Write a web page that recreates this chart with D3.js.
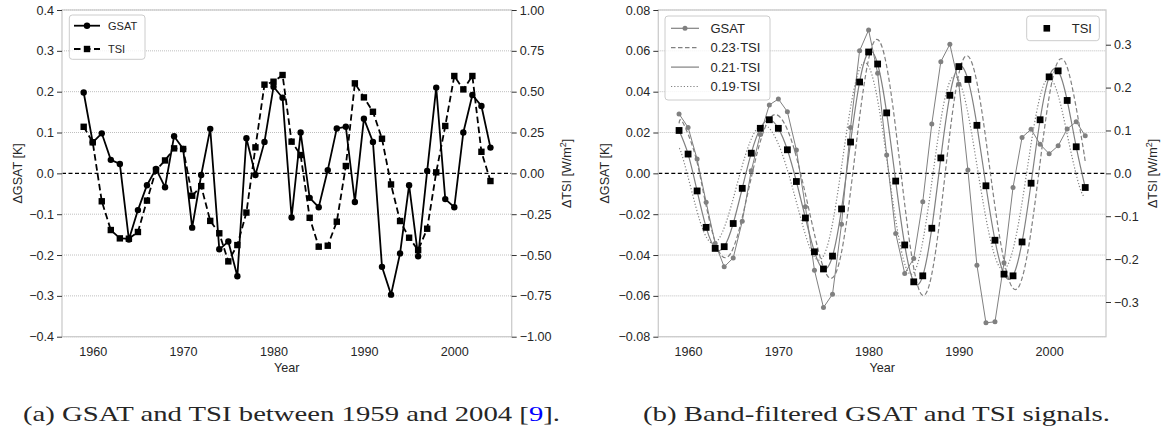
<!DOCTYPE html>
<html>
<head>
<meta charset="utf-8">
<script src="https://cdn.jsdelivr.net/npm/d3@7"></script>
<style>
  body { margin: 0; background: #fff; }
  svg { display: block; }
  text { font-family: "Liberation Sans", Arial, sans-serif; fill: #262626; }
</style>
</head>
<body>
<svg width="1168" height="430"></svg>
<script>
// годы наблюдений
const years = d3.range(1959, 2005);

// (a) исходные ряды
const gsatRaw = [0.198, 0.076, 0.098, 0.033, 0.023, -0.162, -0.090, -0.029, 0.011, -0.034,
  0.091, 0.060, -0.133, -0.004, 0.109, -0.186, -0.167, -0.252, 0.086, -0.004,
  0.077, 0.212, 0.185, -0.108, 0.100, -0.060, -0.083, 0.008, 0.110, 0.114,
  -0.070, 0.134, 0.077, -0.229, -0.297, -0.196, -0.029, -0.203, 0.006, 0.210,
  -0.063, -0.083, 0.100, 0.192, 0.165, 0.063];
const tsiRaw = [0.285, 0.190, -0.171, -0.347, -0.398, -0.400, -0.359, -0.167, 0.020, 0.079,
  0.153, 0.149, -0.137, -0.078, -0.291, -0.367, -0.539, -0.439, -0.240, 0.159,
  0.543, 0.561, 0.602, 0.194, 0.112, -0.272, -0.449, -0.443, -0.296, 0.045,
  0.551, 0.465, 0.377, 0.212, -0.068, -0.292, -0.394, -0.470, -0.339, 0.006,
  0.290, 0.596, 0.514, 0.596, 0.132, -0.047];

// (b) отфильтрованные ряды
const gsatBand = [0.0291, 0.0225, 0.0070, -0.0141, -0.0343, -0.0458, -0.0414, -0.0235, 0.0013, 0.0190,
  0.0335, 0.0364, 0.0302, 0.0114, -0.0164, -0.0474, -0.0657, -0.0592, -0.0249, 0.0225,
  0.0600, 0.0702, 0.0490, 0.0090, -0.0294, -0.0490, -0.0417, -0.0139, 0.0242, 0.0547,
  0.0632, 0.0436, 0.0016, -0.0450, -0.0732, -0.0727, -0.0438, -0.0069, 0.0176, 0.0216,
  0.0142, 0.0096, 0.0135, 0.0217, 0.0253, 0.0184];
const tsiBand = [0.100, 0.045, -0.041, -0.126, -0.175, -0.171, -0.117, -0.035, 0.047, 0.105,
  0.125, 0.105, 0.055, -0.019, -0.104, -0.183, -0.223, -0.193, -0.083, 0.073,
  0.213, 0.283, 0.255, 0.141, -0.018, -0.167, -0.253, -0.239, -0.128, 0.036,
  0.182, 0.249, 0.219, 0.112, -0.029, -0.156, -0.235, -0.239, -0.160, -0.023,
  0.125, 0.225, 0.239, 0.170, 0.062, -0.033];

// кривые 0.23·TSI и 0.19·TSI (точки: [год, значение])
const tsi023 = [[1959, 0.0245], [1959.4, 0.0250], [1960.7, 0.0103], [1961.7, -0.0094], [1962.7, -0.0290],
  [1963.7, -0.0402], [1964.7, -0.0393], [1965.7, -0.0269], [1966.7, -0.0080], [1967.7, 0.0108],
  [1968.7, 0.0242], [1969.7, 0.0288], [1970.7, 0.0242], [1971.7, 0.0127], [1972.7, -0.0044],
  [1973.7, -0.0239], [1974.7, -0.0421], [1975.7, -0.0513], [1976.7, -0.0444], [1977.7, -0.0191],
  [1978.7, 0.0168], [1979.7, 0.0490], [1980.7, 0.0651], [1981.7, 0.0587], [1982.7, 0.0324],
  [1983.7, -0.0041], [1984.7, -0.0384], [1985.7, -0.0582], [1986.7, -0.0550], [1987.7, -0.0294],
  [1988.7, 0.0083], [1989.7, 0.0419], [1990.7, 0.0573], [1991.7, 0.0504], [1992.7, 0.0258],
  [1993.7, -0.0067], [1994.7, -0.0359], [1995.7, -0.0540], [1996.7, -0.0550], [1997.7, -0.0368],
  [1998.7, -0.0053], [1999.7, 0.0288], [2000.7, 0.0518], [2001.7, 0.0550], [2002.7, 0.0391],
  [2003.7, 0.0143], [2004, 0.0057]];
const tsi019 = [[1959, 0.0122], [1959.35, 0.0086], [1960.35, -0.0078], [1961.35, -0.0239], [1962.35, -0.0333],
  [1963.35, -0.0325], [1964.35, -0.0222], [1965.35, -0.0067], [1966.35, 0.0089], [1967.35, 0.0200],
  [1968.35, 0.0238], [1969.35, 0.0200], [1970.35, 0.0105], [1971.35, -0.0036], [1972.35, -0.0198],
  [1973.35, -0.0348], [1974.35, -0.0424], [1975.35, -0.0367], [1976.35, -0.0158], [1977.35, 0.0139],
  [1978.35, 0.0405], [1979.35, 0.0538], [1980.35, 0.0485], [1981.35, 0.0268], [1982.35, -0.0034],
  [1983.35, -0.0317], [1984.35, -0.0481], [1985.35, -0.0454], [1986.35, -0.0243], [1987.35, 0.0068],
  [1988.35, 0.0346], [1989.35, 0.0473], [1990.35, 0.0416], [1991.35, 0.0213], [1992.35, -0.0055],
  [1993.35, -0.0296], [1994.35, -0.0447], [1995.35, -0.0454], [1996.35, -0.0304], [1997.35, -0.0044],
  [1998.35, 0.0238], [1999.35, 0.0428], [2000.35, 0.0454], [2001.35, 0.0323], [2002.35, 0.0118],
  [2003.35, -0.0063], [2003.9, -0.0115]];

// подписи делений
const xTicks = [1960, 1970, 1980, 1990, 2000];
const yTicksA = [-0.4, -0.3, -0.2, -0.1, 0, 0.1, 0.2, 0.3, 0.4];
const y2TicksA = [-1, -0.75, -0.5, -0.25, 0, 0.25, 0.5, 0.75, 1];
const yTicksB = [-0.08, -0.06, -0.04, -0.02, 0, 0.02, 0.04, 0.06, 0.08];
const y2TicksB = [-0.3, -0.2, -0.1, 0, 0.1, 0.2, 0.3];

const svg = d3.select("svg");
const minus = s => s.replace("-", "\u2212");

function createPanel(area) {
  const g = svg.append("g");
  const scX = d3.scaleLinear().domain(area.xDomain).range([area.left, area.right]);
  const scY = d3.scaleLinear().domain(area.yDomain).range([area.bottom, area.top]);
  const scY2 = d3.scaleLinear().domain(area.y2Domain).range([area.bottom, area.top]);

  // сетка
  g.append("g").selectAll("line")
    .data(area.yTicks.filter(d => d !== 0))
    .join("line")
    .attr("x1", area.left).attr("x2", area.right)
    .attr("y1", d => scY(d)).attr("y2", d => scY(d))
    .attr("stroke", "#b8b8b8").attr("stroke-width", 0.9)
    .attr("stroke-dasharray", "1,1");

  // нулевая линия
  g.append("line")
    .attr("x1", area.left).attr("x2", area.right)
    .attr("y1", scY(0)).attr("y2", scY(0))
    .attr("stroke", "#000").attr("stroke-width", 1.1)
    .attr("stroke-dasharray", "4,2.5");

  // рамка
  g.append("rect")
    .attr("x", area.left).attr("y", area.top)
    .attr("width", area.right - area.left).attr("height", area.bottom - area.top)
    .attr("fill", "none").attr("stroke", "#cccccc").attr("stroke-width", 1.3);

  const axL = g.append("g")
    .attr("transform", `translate(${area.left},0)`)
    .call(d3.axisLeft(scY).tickValues(area.yTicks).tickSize(5).tickPadding(3)
      .tickFormat(d => minus(d3.format(area.yFmt)(d))));
  const axR = g.append("g")
    .attr("transform", `translate(${area.right},0)`)
    .call(d3.axisRight(scY2).tickValues(area.y2Ticks).tickSize(5).tickPadding(3)
      .tickFormat(d => minus(d3.format(area.y2Fmt)(d))));
  const axB = g.append("g")
    .attr("transform", `translate(0,${area.bottom})`)
    .call(d3.axisBottom(scX).tickValues(xTicks).tickSize(0).tickPadding(10)
      .tickFormat(d3.format("d")));

  [axL, axR, axB].forEach(ax => {
    ax.select(".domain").remove();
    ax.selectAll("line").attr("stroke", "#333").attr("stroke-width", 1);
    ax.selectAll("text").style("font-size", "12.6px").attr("fill", "#262626")
      .style("font-family", '"Liberation Sans", Arial, sans-serif');
  });

  // подписи осей
  const midX = (area.left + area.right) / 2;
  const midY = (area.top + area.bottom) / 2;
  g.append("text").attr("x", midX).attr("y", 372).attr("text-anchor", "middle")
    .style("font-size", "12.6px").text("Year");
  g.append("text").attr("transform", `translate(${area.left - area.yLabelDx},${midY}) rotate(-90)`)
    .attr("text-anchor", "middle").style("font-size", "12.6px")
    .text(area.yLabel);
  const t2 = g.append("text").attr("transform", `translate(${area.right + area.y2LabelDx},${midY}) rotate(-90)`)
    .attr("text-anchor", "middle").style("font-size", "12.6px");
  t2.append("tspan").text("\u0394TSI [W/m");
  t2.append("tspan").attr("dy", -5).style("font-size", "9px").text("2");
  t2.append("tspan").attr("dy", 5).text("]");

  return [scX, scY, scY2];
}

// ---------- (a) ----------
const areaA = {
  left: 62, right: 511.7, top: 10, bottom: 336.7,
  xDomain: [1956.6, 2006.35], yDomain: [-0.4, 0.4], y2Domain: [-1, 1],
  yTicks: yTicksA, y2Ticks: y2TicksA, yFmt: ".1f", y2Fmt: ".2f",
  yLabel: "\u0394GSAT [K]", yLabelDx: 40, y2LabelDx: 59
};
const [xA, yA, yA2] = createPanel(areaA);

const gA = svg.append("g");
gA.append("path")
  .datum(years.map((y, i) => [y, gsatRaw[i]]))
  .attr("fill", "none").attr("stroke", "#000").attr("stroke-width", 1.8)
  .attr("d", d3.line().x(d => xA(d[0])).y(d => yA(d[1])));
gA.selectAll(".gc").data(years.map((y, i) => [y, gsatRaw[i]])).join("circle")
  .attr("cx", d => xA(d[0])).attr("cy", d => yA(d[1])).attr("r", 3.2).attr("fill", "#000");
gA.append("path")
  .datum(years.map((y, i) => [y, tsiRaw[i]]))
  .attr("fill", "none").attr("stroke", "#000").attr("stroke-width", 1.8)
  .attr("stroke-dasharray", "6.5,3.5")
  .attr("d", d3.line().x(d => xA(d[0])).y(d => yA2(d[1])));
gA.selectAll(".ts").data(years.map((y, i) => [y, tsiRaw[i]])).join("rect")
  .attr("x", d => xA(d[0]) - 3.2).attr("y", d => yA2(d[1]) - 3.2)
  .attr("width", 6.4).attr("height", 6.4).attr("fill", "#000");

// легенда (a)
const legA = svg.append("g");
legA.append("rect").attr("x", 69.3).attr("y", 15).attr("width", 75.7).attr("height", 44.3)
  .attr("rx", 3).attr("fill", "#fff").attr("fill-opacity", 0.8)
  .attr("stroke", "#cccccc").attr("stroke-width", 1);
const legAItems = [{ label: "GSAT", dash: null, mark: "circle" }, { label: "TSI", dash: "6.5,3.5", mark: "square" }];
legAItems.forEach((it, i) => {
  const y = 25.7 + i * 23.3;
  legA.append("line").attr("x1", 74).attr("x2", 100).attr("y1", y).attr("y2", y)
    .attr("stroke", "#000").attr("stroke-width", 1.8).attr("stroke-dasharray", it.dash);
  if (it.mark === "circle") {
    legA.append("circle").attr("cx", 87).attr("cy", y).attr("r", 3.2).attr("fill", "#000");
  } else {
    legA.append("rect").attr("x", 83.8).attr("y", y - 3.2).attr("width", 6.4).attr("height", 6.4).attr("fill", "#000");
  }
  legA.append("text").attr("x", 108).attr("y", y + 4).style("font-size", "11px").text(it.label);
});

// ---------- (b) ----------
const areaB = {
  left: 658.3, right: 1106, top: 10, bottom: 336.7,
  xDomain: [1956.7, 2006.3], yDomain: [-0.08, 0.08], y2Domain: [-0.08 / 0.21, 0.08 / 0.21],
  yTicks: yTicksB, y2Ticks: y2TicksB, yFmt: ".2f", y2Fmt: ".1f",
  yLabel: "\u0394GSAT [K]", yLabelDx: 49, y2LabelDx: 51
};
const [xB, yB, yB2] = createPanel(areaB);
const grey = "#808080";

const gB = svg.append("g");
const curve = d3.line().curve(d3.curveNatural).x(d => xB(d[0])).y(d => yB(d[1]));
gB.append("path").datum(years.map((y, i) => [y, gsatBand[i]]))
  .attr("fill", "none").attr("stroke", grey).attr("stroke-width", 1)
  .attr("d", d3.line().x(d => xB(d[0])).y(d => yB(d[1])));
gB.selectAll(".gb").data(years.map((y, i) => [y, gsatBand[i]])).join("circle")
  .attr("cx", d => xB(d[0])).attr("cy", d => yB(d[1])).attr("r", 2.5).attr("fill", grey);
gB.append("path").datum(tsi023)
  .attr("fill", "none").attr("stroke", grey).attr("stroke-width", 1.2)
  .attr("stroke-dasharray", "4.5,2.5").attr("d", curve);
gB.append("path").datum(years.map((y, i) => [y, tsiBand[i]]))
  .attr("fill", "none").attr("stroke", grey).attr("stroke-width", 1.2)
  .attr("d", d3.line().curve(d3.curveNatural).x(d => xB(d[0])).y(d => yB2(d[1])));
gB.append("path").datum(tsi019)
  .attr("fill", "none").attr("stroke", grey).attr("stroke-width", 1.2)
  .attr("stroke-dasharray", "1.2,2").attr("d", curve);
gB.selectAll(".tb").data(years.map((y, i) => [y, tsiBand[i]])).join("rect")
  .attr("x", d => xB(d[0]) - 3.4).attr("y", d => yB2(d[1]) - 3.4)
  .attr("width", 6.8).attr("height", 6.8).attr("fill", "#000");

// легенды (b)
const legB = svg.append("g");
legB.append("rect").attr("x", 665).attr("y", 16).attr("width", 105).attr("height", 84)
  .attr("rx", 3).attr("fill", "#fff").attr("fill-opacity", 0.8)
  .attr("stroke", "#cccccc").attr("stroke-width", 1);
const legBItems = [
  { label: "GSAT", dash: null, mark: true },
  { label: "0.23\u00B7TSI", dash: "4.5,2.5", mark: false },
  { label: "0.21\u00B7TSI", dash: null, mark: false },
  { label: "0.19\u00B7TSI", dash: "1.2,2", mark: false }
];
legBItems.forEach((it, i) => {
  const y = 28.3 + i * 19.4;
  legB.append("line").attr("x1", 671).attr("x2", 699).attr("y1", y).attr("y2", y)
    .attr("stroke", grey).attr("stroke-width", 1.2).attr("stroke-dasharray", it.dash);
  if (it.mark) legB.append("circle").attr("cx", 685).attr("cy", y).attr("r", 2.5).attr("fill", grey);
  legB.append("text").attr("x", 710.5).attr("y", y + 4.6).style("font-size", "13px").text(it.label);
});
legB.append("rect").attr("x", 1026.7).attr("y", 16).attr("width", 72.6).attr("height", 24.7)
  .attr("rx", 3).attr("fill", "#fff").attr("fill-opacity", 0.8)
  .attr("stroke", "#cccccc").attr("stroke-width", 1);
legB.append("rect").attr("x", 1043.5).attr("y", 25).attr("width", 6.6).attr("height", 6.6).attr("fill", "#000");
legB.append("text").attr("x", 1071.7).attr("y", 32.9).style("font-size", "13px").text("TSI");

// подписи под графиками
const capA = svg.append("text").attr("x", 23).attr("y", 420.5)
  .attr("textLength", 537).attr("lengthAdjust", "spacingAndGlyphs")
  .style("font-family", '"Liberation Serif", "Times New Roman", serif').style("font-size", "21px")
  .attr("fill", "#111");
capA.append("tspan").text("(a) GSAT and TSI between 1959 and 2004 [");
capA.append("tspan").attr("fill", "#0000ff").style("fill", "#0000ff").text("9");
capA.append("tspan").text("].");

svg.append("text").attr("x", 643).attr("y", 420.5)
  .attr("textLength", 467).attr("lengthAdjust", "spacingAndGlyphs")
  .style("font-family", '"Liberation Serif", "Times New Roman", serif').style("font-size", "21px")
  .attr("fill", "#111")
  .text("(b) Band-filtered GSAT and TSI signals.");
</script>
</body>
</html>
